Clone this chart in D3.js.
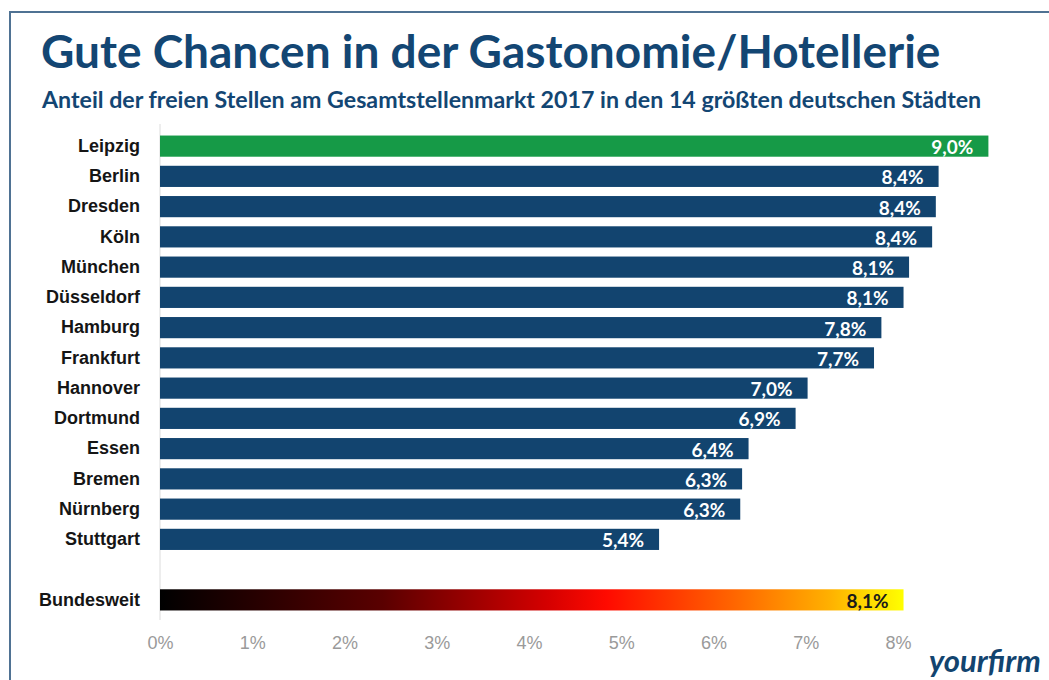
<!DOCTYPE html>
<html lang="de">
<head>
<meta charset="utf-8">
<title>Gute Chancen in der Gastonomie/Hotellerie</title>
<script src="https://d3js.org/d3.v7.min.js"></script>
<style>
    body { margin: 0; background: #fff; }
    svg { display: block; font-family: Lato, "Open Sans", sans-serif; }
    .title { font-size: 46px; font-weight: bold; fill: #134673; }
    .subtitle { font-size: 23.2px; font-weight: bold; fill: #134673; }
    .cat text { font-size: 18px; font-weight: bold; fill: #151515; }
    .xaxis text { font-size: 18px; fill: #9a9a9a; }
    .val { font-size: 19px; font-weight: bold; }
</style>
</head>
<body>
<script>
// data
const cities = ["Leipzig", "Berlin", "Dresden", "Köln", "München", "Düsseldorf", "Hamburg",
                "Frankfurt", "Hannover", "Dortmund", "Essen", "Bremen", "Nürnberg", "Stuttgart"];
const shares = [8.98, 8.44, 8.41, 8.37, 8.12, 8.06, 7.82, 7.74, 7.02, 6.89, 6.38, 6.31, 6.29, 5.41];
const nationalLabel = "Bundesweit";
const nationalShare = 8.06;
const tickValues = [0, 1, 2, 3, 4, 5, 6, 7, 8];

const w = 1049, h = 680;

const svg = d3.select("body").append("svg")
    .attr("width", w)
    .attr("height", h);

// frame lines
svg.append("line").attr("x1", 9).attr("x2", w).attr("y1", 12).attr("y2", 12)
    .attr("stroke", "#4f7293").attr("stroke-width", 2);
svg.append("line").attr("x1", 10).attr("x2", 10).attr("y1", 11).attr("y2", h)
    .attr("stroke", "#4f7293").attr("stroke-width", 2);

svg.append("text").attr("class", "title").attr("x", 41).attr("y", 68)
    .text("Gute Chancen in der Gastonomie/Hotellerie");
svg.append("text").attr("class", "subtitle").attr("x", 42).attr("y", 108)
    .text("Anteil der freien Stellen am Gesamtstellenmarkt 2017 in den 14 größten deutschen Städten");

// rows: cities, one empty slot, then the national value
const rows = cities.map((c, i) => ({ name: c, value: shares[i] }));
const domain = cities.concat(["_gap", nationalLabel]);

const xScale = d3.scaleLinear().domain([0, 9]).range([160, 990.25]);
const yScale = d3.scaleBand().domain(domain)
    .range([131, 615]).paddingInner(0.3).paddingOuter(0.15);

// gradient for Bundesweit
const grad = svg.append("defs").append("linearGradient")
    .attr("id", "heat").attr("x1", "0%").attr("x2", "100%");
[["0%", "#000000"], ["30%", "#5a0000"], ["52%", "#d40000"], ["60%", "#ff0a00"],
 ["78%", "#ff6a00"], ["90%", "#ffb000"], ["100%", "#ffff00"]].forEach(s => {
    grad.append("stop").attr("offset", s[0]).attr("stop-color", s[1]);
});

// zero line
svg.append("line")
    .attr("x1", xScale(0)).attr("x2", xScale(0))
    .attr("y1", 124).attr("y2", 620)
    .attr("stroke", "#dcdcdc").attr("stroke-width", 1);

svg.selectAll(".bar")
    .data(rows)
    .join("rect")
    .attr("class", "bar")
    .attr("x", xScale(0))
    .attr("y", d => yScale(d.name))
    .attr("width", d => xScale(d.value) - xScale(0))
    .attr("height", yScale.bandwidth())
    .attr("fill", (d, i) => i == 0 ? "#169a47" : "#12446f");

svg.append("rect")
    .attr("x", xScale(0))
    .attr("y", yScale(nationalLabel))
    .attr("width", xScale(nationalShare) - xScale(0))
    .attr("height", yScale.bandwidth())
    .attr("fill", "url(#heat)");

const fmt = v => d3.format(".1f")(v).replace(".", ",") + "%";

svg.selectAll(".val")
    .data(rows.concat([{ name: nationalLabel, value: nationalShare }]))
    .join("text")
    .attr("class", "val")
    .attr("x", d => xScale(d.value) - 15)
    .attr("y", d => yScale(d.name) + yScale.bandwidth() / 2 + 8)
    .attr("text-anchor", "end")
    .attr("fill", d => d.name == nationalLabel ? "#1a1a1a" : "#fff")
    .text(d => fmt(d.value));

// category axis
const leftAxis = d3.axisLeft(yScale)
    .tickSize(0).tickPadding(20)
    .tickFormat(d => d == "_gap" ? "" : d);
svg.append("g")
    .attr("class", "cat")
    .attr("transform", "translate(" + xScale(0) + ",0)")
    .call(leftAxis)
    .call(g => g.select(".domain").remove());

// bottom axis
const bottomAxis = d3.axisBottom(xScale)
    .tickValues(tickValues).tickSize(0).tickPadding(0)
    .tickFormat(d => d + "%");
svg.append("g")
    .attr("class", "xaxis")
    .attr("transform", "translate(0,636)")
    .call(bottomAxis)
    .call(g => g.select(".domain").remove());

// logo
svg.append("text")
    .attr("x", 929).attr("y", 672)
    .attr("font-size", 31).attr("font-weight", "bold").attr("font-style", "italic")
    .attr("fill", "#12446f")
    .text("yourfirm");
</script>
</body>
</html>
